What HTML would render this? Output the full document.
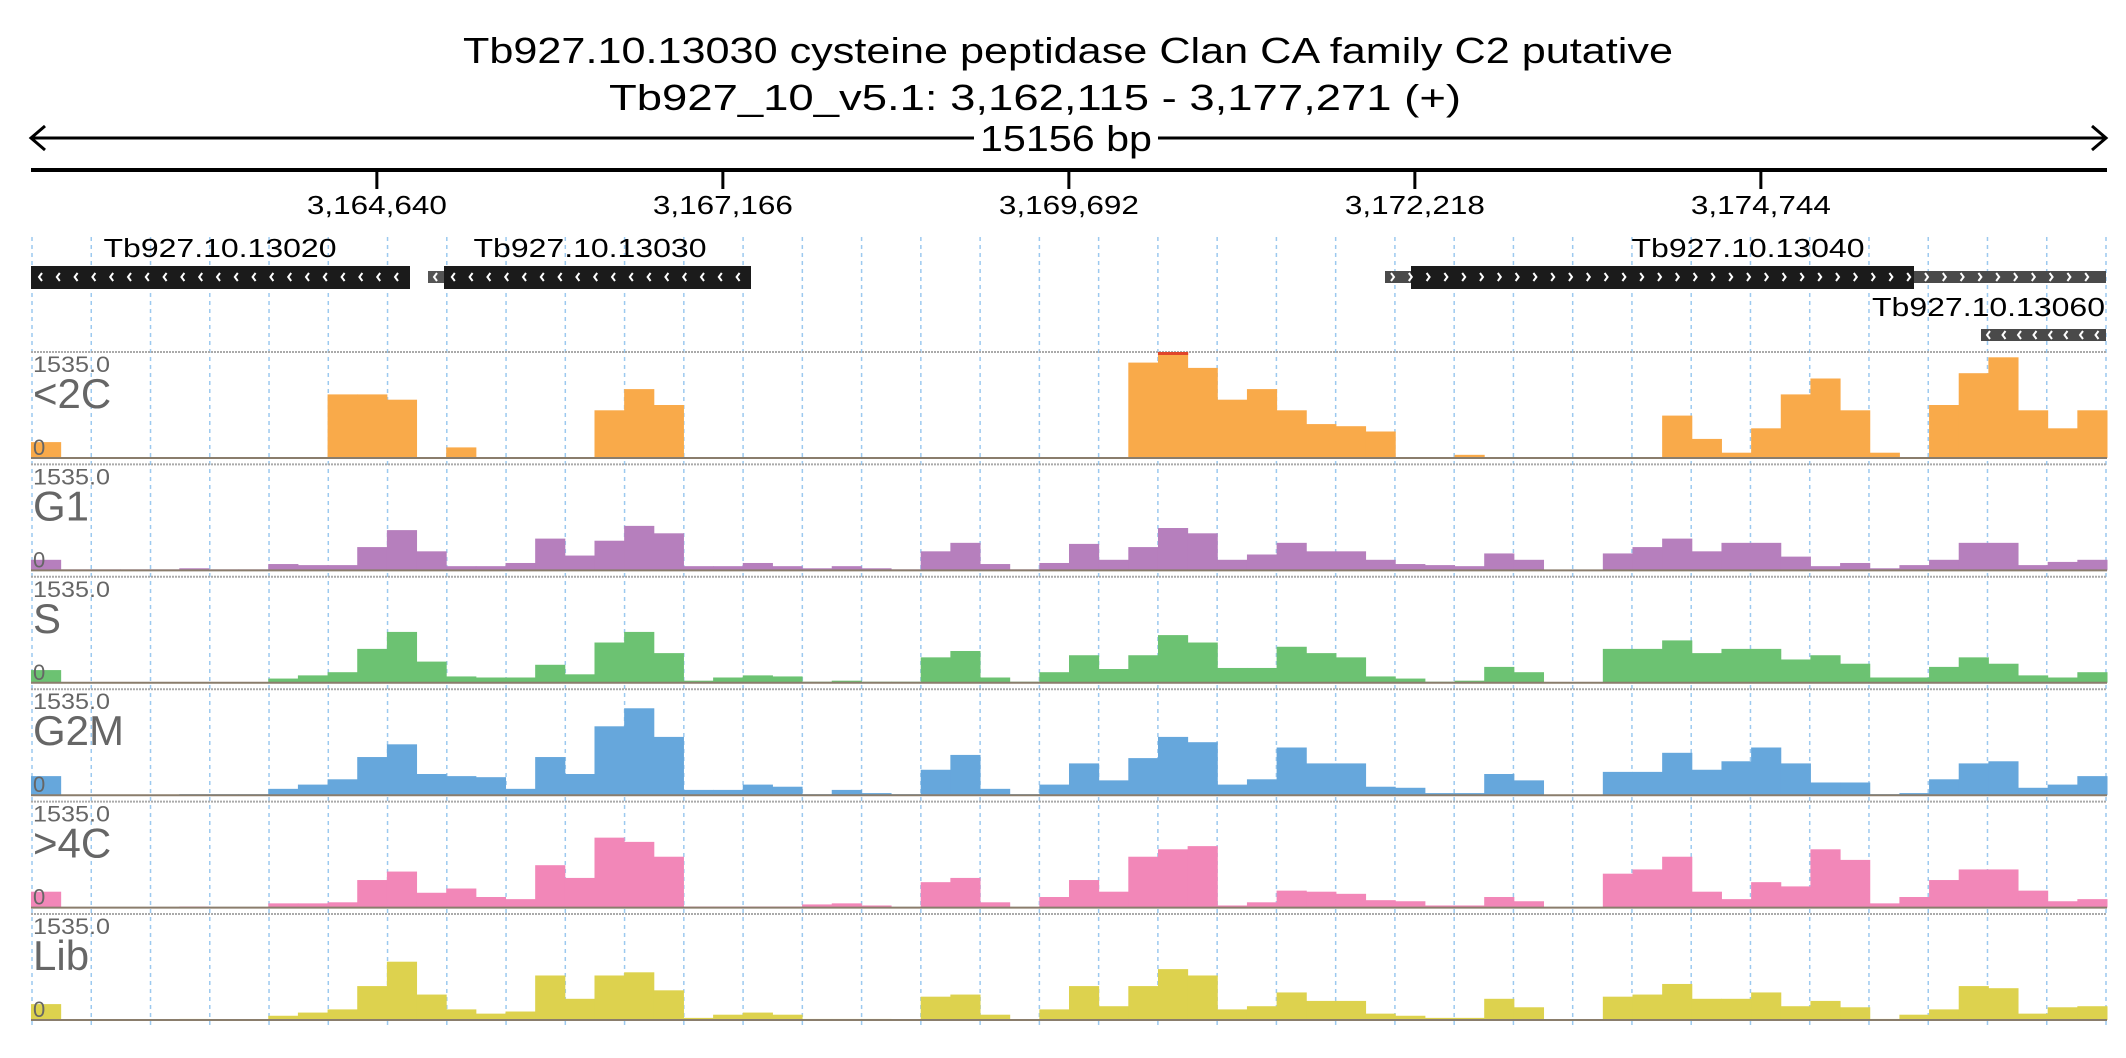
<!DOCTYPE html>
<html><head><meta charset="utf-8"><style>
html,body{margin:0;padding:0;background:#fff;}
svg{display:block;font-family:"Liberation Sans",sans-serif;}
</style></head><body>
<svg id="chart" width="2126" height="1058" viewBox="0 0 2126 1058" xmlns="http://www.w3.org/2000/svg">
<g id="grid"></g>
<text x="1068" y="63" font-size="36" text-anchor="middle" textLength="1210" lengthAdjust="spacingAndGlyphs" fill="#000">Tb927.10.13030  cysteine peptidase  Clan CA  family C2  putative</text>
<text x="1035" y="110" font-size="36" text-anchor="middle" textLength="852" lengthAdjust="spacingAndGlyphs" fill="#000">Tb927_10_v5.1: 3,162,115 - 3,177,271 (+)</text>
<g stroke="#000" stroke-width="3" fill="none">
<line x1="31" y1="138" x2="974" y2="138"/><line x1="1158" y1="138" x2="2106" y2="138"/>
<polyline points="45,126 31,138 45,150"/><polyline points="2092,126 2106,138 2092,150"/>
</g>
<text x="1066" y="151" font-size="36" text-anchor="middle" textLength="172" lengthAdjust="spacingAndGlyphs">15156 bp</text>
<line x1="31" y1="170" x2="2107" y2="170" stroke="#000" stroke-width="4"/>
<g id="ticks"></g>
<g id="genes"></g>
<g id="tracks"></g>
</svg>
<script>
const startBp = 3162115;
const endBp = 3177271;
const tickValues = [3164640, 3167166, 3169692, 3172218, 3174744];
const tickLabels = ["3,164,640", "3,167,166", "3,169,692", "3,172,218", "3,174,744"];
const trackNames = ["<2C", "G1", "S", "G2M", ">4C", "Lib"];
const trackMax = "1535.0";
const cov2C = [15,0,0,0,0,0,0,0,0,0,60,60,55,0,10,0,0,0,0,45,65,50,0,0,0,0,0,0,0,0,0,0,0,0,0,0,0,90,100,85,55,65,45,32,30,25,0,0,3,0,0,0,0,0,0,40,18,5,28,60,75,45,5,0,50,80,95,45,28,45];
const covG1 = [10,1,1,1,1,2,1,1,6,5,5,22,38,18,4,4,7,30,14,28,42,35,4,4,7,4,2,4,2,1,18,26,6,1,7,25,10,22,40,35,10,15,26,18,18,10,6,5,4,16,10,0,0,16,22,30,18,26,26,13,4,7,2,5,10,26,26,5,8,10];
const covS = [12,0.5,0.5,0.5,0.5,0.5,0.5,0.5,4,7,10,32,48,20,6,5,5,17,8,38,48,28,2,5,7,6,1,2,1,1,24,30,5,1,10,26,13,26,45,38,14,14,34,28,24,6,4,1,2,15,10,0,0,32,32,40,28,32,32,22,26,18,5,5,15,24,18,7,5,10];
const covG2M = [18,0.5,0.5,0.5,0.5,1,1,1,6,10,15,36,48,20,18,17,6,36,20,65,82,55,5,5,10,8,1,5,2,1,24,38,6,1,10,30,14,35,55,50,10,15,45,30,30,8,7,2,2,20,14,0,0,22,22,40,24,32,45,30,12,12,1,2,15,30,32,7,10,18];
const cov4C = [15,0,0,0,0,1,0,0,4,4,5,26,34,14,18,10,8,40,28,66,62,48,1,1,1,1,3,4,2,0,24,28,5,0,10,26,15,48,55,58,2,5,16,15,13,7,6,2,2,10,6,0,0,32,36,48,15,8,24,20,55,45,4,10,26,36,36,16,6,8];
const covLib = [15,0,0,0,0,1,0,0,4,7,10,32,55,24,10,6,8,42,20,42,45,28,2,5,7,5,1,1,1,0,22,24,5,0,10,32,13,32,48,42,10,13,26,18,18,6,4,2,2,20,12,0,0,22,24,34,20,20,26,13,18,12,1,5,10,32,30,6,12,13];
const trackData = [cov2C, covG1, covS, covG2M, cov4C, covLib];
const trackColors = ["#f9aa4a", "#b67fbd", "#6cc272", "#66a7dc", "#f287b8", "#ddd24e"];
const geneNames = ["Tb927.10.13020", "Tb927.10.13030", "Tb927.10.13040", "Tb927.10.13060"];

const NS = "http://www.w3.org/2000/svg";
const X0 = 31, X1 = 2107;
function xScale(bp){ return X0 + (bp - startBp) * (X1 - X0) / (endBp - startBp); }
function mk(tag, attrs, parent){ const e = document.createElementNS(NS, tag); for (const k in attrs) e.setAttribute(k, attrs[k]); parent.appendChild(e); return e; }

const grid = document.getElementById('grid');
for (let k = 0; k <= 35; k++) {
  const x = 32 + k * (2106 - 32) / 35;
  const l = mk('line', {x1:x, y1:237, x2:x, y2:1025, stroke:'#9cc9ef', 'stroke-width':1.5, 'stroke-dasharray':'4,4'}, grid);
  
  
}
const ticks = document.getElementById('ticks');
tickValues.forEach((v, i) => {
  const x = xScale(v);
  const t = mk('line', {x1:x, y1:170, x2:x, y2:189, stroke:'#000', 'stroke-width':3}, ticks);
  
  
  const lab = mk('text', {x:x, y:214, 'font-size':26, 'text-anchor':'middle', textLength:140, lengthAdjust:'spacingAndGlyphs'}, ticks);
  lab.textContent = tickLabels[i];
  
  
});
const genes = document.getElementById('genes');
function chevrons(x1, x2, y, dir, step){
  for (let x = x1 + 8; x < x2 - 4; x += step) {
    const p = dir < 0 ? `${x+3},${y-4} ${x},${y} ${x+3},${y+4}` : `${x},${y-4} ${x+3},${y} ${x},${y+4}`;
    const c = mk('polyline', {points:p, fill:'none', stroke:'#fff', 'stroke-width':2}, genes);
    
    
  }
}
function geneBar(x1, x2, y1, y2, fill, name){
  const r = mk('rect', {x:x1, y:y1, width:x2-x1, height:y2-y1, fill:fill}, genes);
  
  
}
function geneLabel(x, y, txt, w, anchor){
  const t = mk('text', {x:x, y:y, 'font-size':26, 'text-anchor':anchor, textLength:w, lengthAdjust:'spacingAndGlyphs'}, genes);
  t.textContent = txt;
  
  
}
geneBar(31, 410, 266, 289, '#1b1b1b', 'gene-13020-cds');
chevrons(31, 410, 277, -1, 17.8);
geneLabel(220, 257, geneNames[0], 233, 'middle');
geneBar(428, 444, 271, 283, '#555', 'gene-13030-utr');
geneBar(444, 751, 266, 289, '#1b1b1b', 'gene-13030-cds');
chevrons(426, 751, 277, -1, 17.8);
geneLabel(590, 257, geneNames[1], 233, 'middle');
geneBar(1385, 2106, 271, 283, '#4a4a4a', 'gene-13040-utr');
geneBar(1411, 1914, 266, 289, '#1b1b1b', 'gene-13040-cds');
chevrons(1383, 2106, 277, 1, 17.8);
geneLabel(1748, 257, geneNames[2], 233, 'middle');
geneBar(1981, 2106, 329, 341, '#4a4a4a', 'gene-13060-cds');
chevrons(1979, 2106, 335, -1, 15.5);
geneLabel(2105, 316, geneNames[3], 233, 'end');

const tracks = document.getElementById('tracks');
trackData.forEach((vals, ti) => {
  const top = 352 + ti * 112.4, base = top + 106;
  const g = mk('g', {}, tracks);
  
  
  const tl = mk('line', {x1:31, y1:top, x2:2107, y2:top, stroke:'#aaa', 'stroke-width':2, 'stroke-dasharray':'2,1'}, g);
  
  
  const n = vals.length, bw = (X1 - X0) / n;
  function yS(v){ return base - Math.min(v, 100) / 100 * (base - top); }
  vals.forEach((v, i) => {
    if (v <= 0) return;
    const b = mk('rect', {x:X0 + i*bw, y:yS(v), width:bw + 0.5, height:base - yS(v), fill:trackColors[ti]}, g);
    
    
    if (v >= 100) {
      const c = mk('rect', {x:X0 + i*bw, y:top, width:bw + 0.5, height:3, fill:'#e0452a'}, g);
      
      
    }
  });
  const bl = mk('line', {x1:31, y1:base, x2:2107, y2:base, stroke:'#8a7d6c', 'stroke-width':2}, g);
  
  
  const mx = mk('text', {x:33, y:top+20, 'font-size':22, fill:'#666', textLength:77, lengthAdjust:'spacingAndGlyphs'}, g);
  mx.textContent = trackMax;
  
  
  const nm = mk('text', {x:33, y:top+56, 'font-size':42, fill:'#666'}, g);
  nm.textContent = trackNames[ti];
  
  
  const z = mk('text', {x:33, y:base-3, 'font-size':22, fill:'#666'}, g);
  z.textContent = '0';
  
  
});
</script>
</body></html>
